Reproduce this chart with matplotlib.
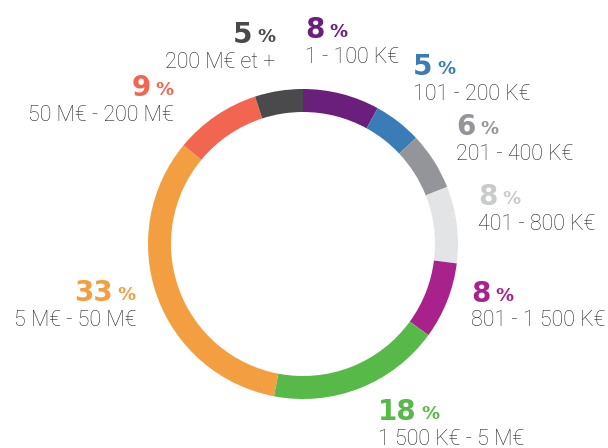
import matplotlib
matplotlib.use("Agg")
import matplotlib.pyplot as plt

# share of companies by revenue bracket, clockwise from the top
shares = [8, 5, 6, 8, 8, 18, 33, 9, 5]
brackets = ["1 - 100 K€", "101 - 200 K€", "201 - 400 K€", "401 - 800 K€",
            "801 - 1 500 K€", "1 500 K€ - 5 M€", "5 M€ - 50 M€",
            "50 M€ - 200 M€", "200 M€ et +"]
ring_colors = ["#6b1f7c", "#3a7db6", "#949598", "#e3e4e6", "#a9218b",
               "#57b948", "#f39f41", "#f26651", "#4a4a4c"]
num_colors = ["#6b1f7c", "#3a7db6", "#949598", "#c9cacc", "#a9218b",
              "#57b948", "#f39f41", "#f26651", "#4a4a4c"]

# label anchor (pixels from top-left) and alignment for each bracket
label_pos = [(305, 30, "left"), (413, 67, "left"), (456, 127, "left"),
             (478, 197, "left"), (471, 294, "left"), (378, 412, "left"),
             (136, 293, "right"), (174, 88, "right"), (275, 35, "right")]

W, H = 608, 448
fig = plt.figure(figsize=(W / 100, H / 100), dpi=100)
ax = fig.add_axes([0, 0, 1, 1])

ax.pie(shares, colors=ring_colors, startangle=90, counterclock=False,
       center=(303, H - 244), radius=155, frame=True,
       wedgeprops=dict(width=23, linewidth=0))
ax.set_xlim(0, W)
ax.set_ylim(0, H)
ax.set_aspect("equal")
ax.axis("off")

renderer = fig.canvas.get_renderer()
num_font = dict(family="DejaVu Sans", fontweight="bold")
lab_font = dict(family="Roboto", fontweight="light")

for val, name, col, (x, y, ha) in zip(shares, brackets, num_colors, label_pos):
    yy = H - y
    num = ax.text(x, yy, str(val), fontsize=20, color=col, ha=ha, va="center", **num_font)
    pct = ax.text(x, yy - 2, "%", fontsize=13, color=col, ha=ha, va="center", **num_font)
    nw = num.get_window_extent(renderer).width
    pw = pct.get_window_extent(renderer).width
    if ha == "left":
        pct.set_x(x + nw + 5)
    else:
        num.set_x(x - pw - 5)
    ax.text(x, yy - 27, name, fontsize=15.5, color="#262626", ha=ha, va="center", **lab_font)

fig.savefig("out.png", dpi=100)
